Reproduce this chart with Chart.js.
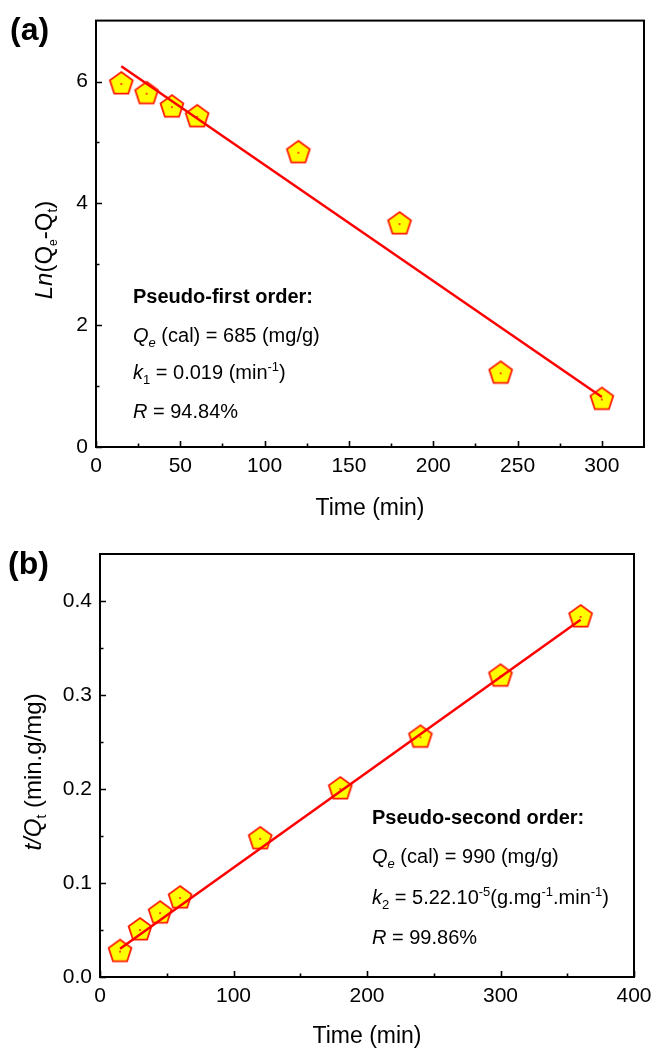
<!DOCTYPE html>
<html><head><meta charset="utf-8">
<script src="https://cdn.jsdelivr.net/npm/chart.js@4.4.1/dist/chart.umd.min.js"></script>
<style>
html,body{margin:0;padding:0;background:#fff;}
#wrap{position:relative;width:662px;height:1054px;background:#fff;}
canvas{position:absolute;left:0;}
</style></head><body>
<div id="wrap">
<canvas id="ca" width="662" height="527" style="top:0"></canvas>
<canvas id="cb" width="662" height="527" style="top:527px"></canvas>
</div>
<script>
// ---------- Panel (a): pseudo-first order ----------
const timeA = [15, 30, 45, 60, 120, 180, 240, 300];
const lnQ = [5.96, 5.80, 5.58, 5.42, 4.83, 3.66, 1.21, 0.78];
const fitTimeA = [15, 300];
const fitLnQ = [6.25, 0.82];
const xTicksA = [0, 50, 100, 150, 200, 250, 300];
const xMinorA = [25, 75, 125, 175, 225, 275];
const yTicksA = [0, 2, 4, 6];
const yMinorA = [1, 3, 5];
// ---------- Panel (b): pseudo-second order ----------
const timeB = [15, 30, 45, 60, 120, 180, 240, 300, 360];
const tQ = [0.027, 0.050, 0.068, 0.084, 0.147, 0.200, 0.255, 0.320, 0.383];
const fitTimeB = [15, 360];
const fitTQ = [0.030, 0.380];
const xTicksB = [0, 100, 200, 300, 400];
const xMinorB = [50, 150, 250, 350];
const yTicksB = [0.0, 0.1, 0.2, 0.3, 0.4];
const yMinorB = [0.05, 0.15, 0.25, 0.35];

const FAM = '"Liberation Sans", Arial, Helvetica, sans-serif';
const F = (s, st) => (st || '') + ' ' + s + 'px ' + FAM;

function pentagon() {
  const s = 30, c = document.createElement('canvas');
  c.width = s; c.height = s;
  const g = c.getContext('2d'), r = 12, cx = s / 2, cy = s / 2;
  g.beginPath();
  for (let i = 0; i < 5; i++) {
    const a = -Math.PI / 2 + i * 2 * Math.PI / 5;
    const px = cx + r * Math.cos(a), py = cy + r * Math.sin(a);
    i ? g.lineTo(px, py) : g.moveTo(px, py);
  }
  g.closePath();
  g.fillStyle = '#ffff00'; g.fill();
  g.strokeStyle = '#ff1a00'; g.lineWidth = 1.8; g.lineJoin = 'miter'; g.stroke();
  g.fillStyle = '#ff0000'; g.beginPath(); g.arc(cx, cy, 0.9, 0, Math.PI * 2); g.fill();
  return c;
}
const PENT = pentagon();

function rich(ctx, x, y, segs, align) {
  let w = 0;
  segs.forEach(s => { ctx.font = s.f; w += ctx.measureText(s.t).width; });
  let cx = align === 'center' ? x - w / 2 : x;
  segs.forEach(s => { ctx.font = s.f; ctx.fillText(s.t, cx, y + (s.dy || 0)); cx += ctx.measureText(s.t).width; });
}

function framePlugin(majX, minX, majY, minY, extra) {
  return {
    id: 'frame',
    afterDraw(chart) {
      const ctx = chart.ctx, a = chart.chartArea, xs = chart.scales.x, ys = chart.scales.y;
      ctx.save();
      ctx.strokeStyle = '#000'; ctx.lineWidth = 1.6;
      ctx.beginPath();
      const tick = (v, len, isX) => {
        if (isX) { const p = Math.round(xs.getPixelForValue(v)) + 0.5; ctx.moveTo(p, a.bottom); ctx.lineTo(p, a.bottom - len); }
        else { const p = Math.round(ys.getPixelForValue(v)) + 0.5; ctx.moveTo(a.left, p); ctx.lineTo(a.left + len, p); }
      };
      majX.forEach(v => tick(v, 6, true)); minX.forEach(v => tick(v, 3.5, true));
      majY.forEach(v => tick(v, 6, false)); minY.forEach(v => tick(v, 3.5, false));
      ctx.stroke();
      ctx.lineWidth = 2;
      ctx.strokeRect(a.left, a.top, a.right - a.left, a.bottom - a.top);
      ctx.fillStyle = '#000';
      ctx.textBaseline = 'alphabetic';
      extra(ctx, chart);
      ctx.restore();
    }
  };
}

function makeChart(id, cfg) {
  const { xs, ys, fx, fy, xMax, yMax, xT, yT, xM, yM, yFmt, pad, yW, xH, extra } = cfg;
  return new Chart(document.getElementById(id), {
    type: 'scatter',
    data: {
      datasets: [
        { data: fx.map((x, i) => ({ x, y: fy[i] })), showLine: true, borderColor: '#ff0000', borderWidth: 2.5, pointRadius: 0, fill: false },
        { data: xs.map((x, i) => ({ x, y: ys[i] })), pointStyle: PENT, pointRadius: 12, showLine: false, clip: false }
      ]
    },
    options: {
      responsive: false, animation: false, devicePixelRatio: 1,
      layout: { padding: pad },
      plugins: { legend: { display: false }, tooltip: { enabled: false } },
      scales: {
        x: {
          type: 'linear', min: 0, max: xMax,
          grid: { display: false, drawTicks: false }, border: { display: false },
          ticks: { color: '#000', font: { family: FAM, size: 21 }, padding: 7, maxRotation: 0, callback: v => String(v) },
          afterBuildTicks: s => { s.ticks = xT.map(v => ({ value: v })); },
          afterFit: s => { s.height = xH; }
        },
        y: {
          type: 'linear', min: 0, max: yMax,
          grid: { display: false, drawTicks: false }, border: { display: false },
          ticks: { color: '#000', font: { family: FAM, size: 21 }, padding: 8, callback: yFmt },
          afterBuildTicks: s => { s.ticks = yT.map(v => ({ value: v })); },
          afterFit: s => { s.width = yW; }
        }
      }
    },
    plugins: [framePlugin(xT, xM, yT, yM, extra)]
  });
}

const R = 20, S = 13, T = 23, YT = 24;
makeChart('ca', {
  xs: timeA, ys: lnQ, fx: fitTimeA, fy: fitLnQ, xMax: 325, yMax: 7,
  xT: xTicksA, yT: yTicksA, xM: xMinorA, yM: yMinorA, yFmt: v => String(v),
  pad: { top: 19, right: 18, left: 0, bottom: 0 }, yW: 96, xH: 80,
  extra(ctx, chart) {
    const a = chart.chartArea;
    ctx.font = F(32, 'bold'); ctx.fillText('(a)', 10, 40);
    ctx.textAlign = 'left';
    rich(ctx, (a.left + a.right) / 2, 515, [{ t: 'Time (min)', f: F(T) }], 'center');
    ctx.save(); ctx.translate(52, 250); ctx.rotate(-Math.PI / 2);
    rich(ctx, 0, 0, [
      { t: 'Ln', f: F(YT, 'italic') }, { t: '(Q', f: F(YT) }, { t: 'e', f: F(12), dy: 5 },
      { t: '-Q', f: F(YT) }, { t: 't', f: F(14), dy: 5 }, { t: ')', f: F(YT) }
    ], 'center');
    ctx.restore();
    const L = 133;
    rich(ctx, L, 303, [{ t: 'Pseudo-first order:', f: F(R, 'bold') }]);
    rich(ctx, L, 342, [{ t: 'Q', f: F(R, 'italic') }, { t: 'e', f: F(S, 'italic'), dy: 5 }, { t: ' (cal) = 685 (mg/g)', f: F(R) }]);
    rich(ctx, L, 379, [{ t: 'k', f: F(R, 'italic') }, { t: '1', f: F(S), dy: 5 }, { t: ' = 0.019 (min', f: F(R) }, { t: '-1', f: F(S), dy: -8 }, { t: ')', f: F(R) }]);
    rich(ctx, L, 418, [{ t: 'R', f: F(R, 'italic') }, { t: ' = 94.84%', f: F(R) }]);
  }
});

makeChart('cb', {
  xs: timeB, ys: tQ, fx: fitTimeB, fy: fitTQ, xMax: 400, yMax: 0.45,
  xT: xTicksB, yT: yTicksB, xM: xMinorB, yM: yMinorB, yFmt: v => v.toFixed(1),
  pad: { top: 27, right: 28, left: 0, bottom: 0 }, yW: 100, xH: 77,
  extra(ctx, chart) {
    const a = chart.chartArea;
    ctx.font = F(32, 'bold'); ctx.fillText('(b)', 8, 47);
    rich(ctx, (a.left + a.right) / 2, 516, [{ t: 'Time (min)', f: F(T) }], 'center');
    ctx.save(); ctx.translate(41, 245); ctx.rotate(-Math.PI / 2);
    rich(ctx, 0, 0, [
      { t: 't/Q', f: F(YT, 'italic') }, { t: 't', f: F(14), dy: 5 }, { t: ' (min.g/mg)', f: F(YT) }
    ], 'center');
    ctx.restore();
    const L = 372;
    rich(ctx, L, 297, [{ t: 'Pseudo-second order:', f: F(R, 'bold') }]);
    rich(ctx, L, 336, [{ t: 'Q', f: F(R, 'italic') }, { t: 'e', f: F(S, 'italic'), dy: 5 }, { t: ' (cal) = 990 (mg/g)', f: F(R) }]);
    rich(ctx, L, 377, [{ t: 'k', f: F(R, 'italic') }, { t: '2', f: F(S), dy: 5 }, { t: ' = 5.22.10', f: F(R) }, { t: '-5', f: F(S), dy: -8 },
      { t: '(g.mg', f: F(R) }, { t: '-1', f: F(S), dy: -8 }, { t: '.min', f: F(R) }, { t: '-1', f: F(S), dy: -8 }, { t: ')', f: F(R) }]);
    rich(ctx, L, 417, [{ t: 'R', f: F(R, 'italic') }, { t: ' = 99.86%', f: F(R) }]);
  }
});
</script>
</body></html>
